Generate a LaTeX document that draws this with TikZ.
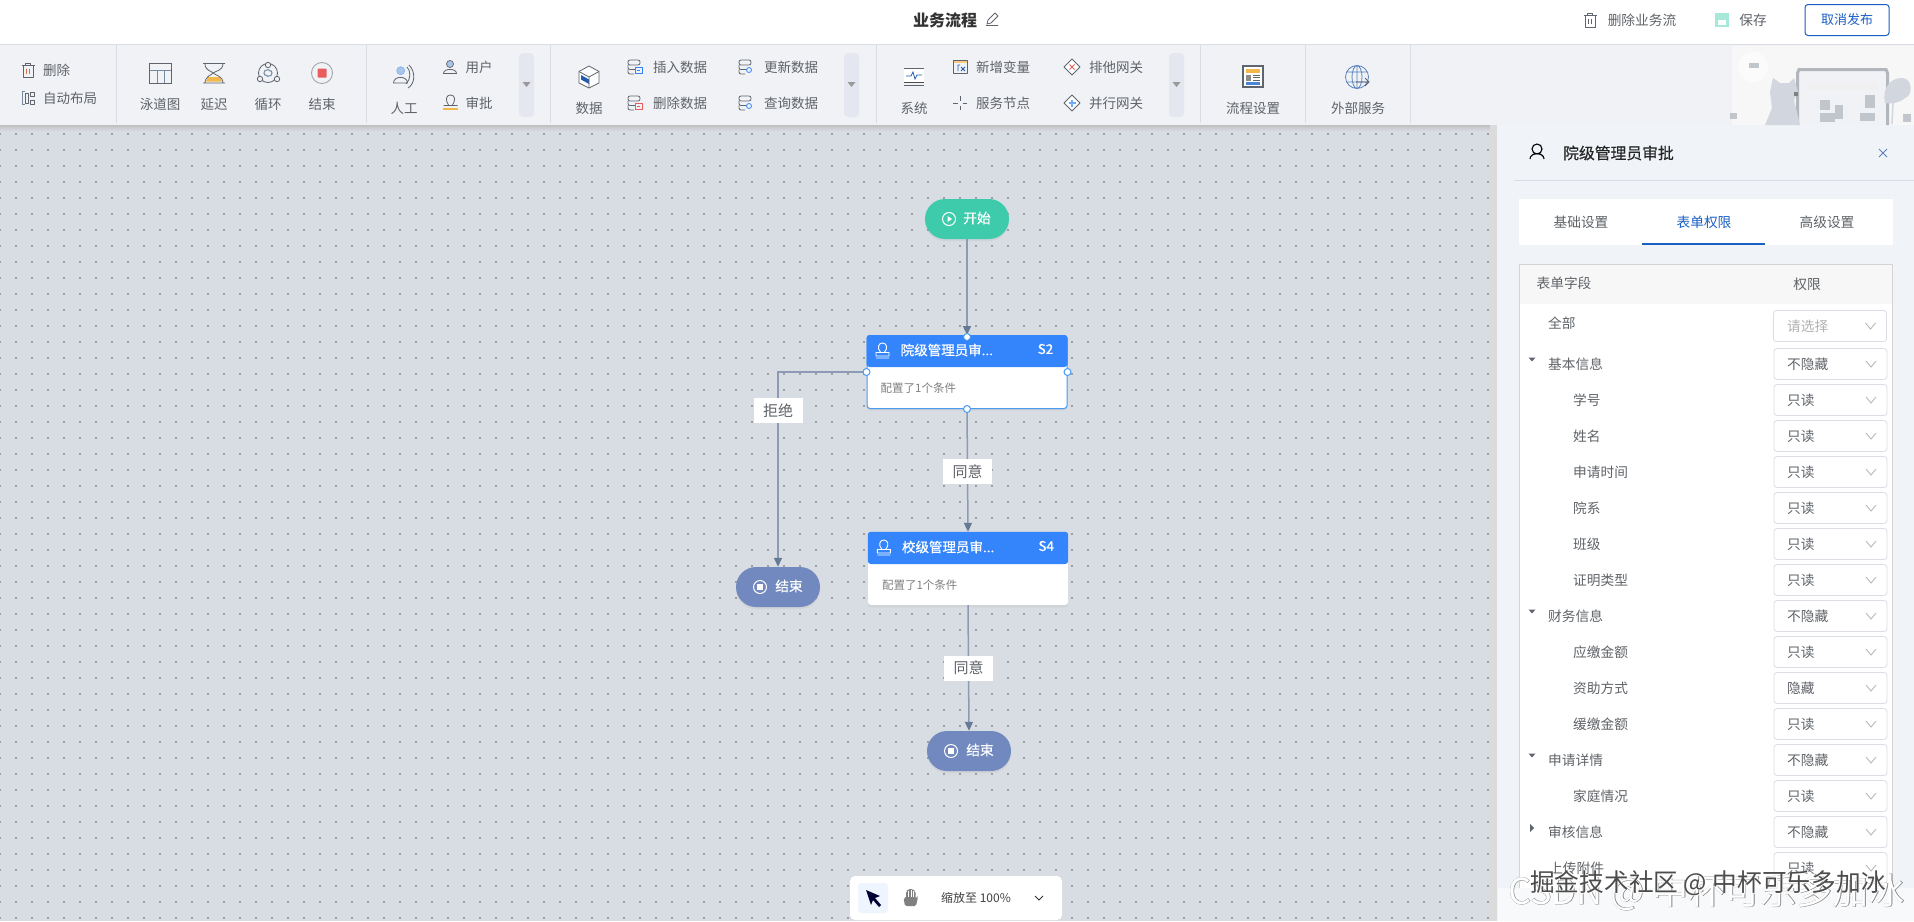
\documentclass[tikz,border=0pt]{standalone}
\usepackage{fontspec}
\usepackage{xcolor}
\usetikzlibrary{arrows.meta,shadows}
\setmainfont{Noto Sans CJK SC}

\definecolor{canvasgrey}{HTML}{D8DDE3}
\definecolor{barfill}{HTML}{F0F2F6}
\definecolor{panelfill}{HTML}{F0F3F7}
\definecolor{linegrey}{HTML}{DADDE3}
\definecolor{textgrey}{HTML}{5F6368}
\definecolor{icongrey}{HTML}{5F656E}
\definecolor{headblue}{HTML}{3485FB}
\definecolor{portblue}{HTML}{4A9BEF}
\definecolor{tabblue}{HTML}{1A5FC4}
\definecolor{startgreen}{HTML}{3DCBAB}
\definecolor{endblue}{HTML}{7189BF}
\definecolor{edgegrey}{HTML}{8C9BB3}
\definecolor{tipgrey}{HTML}{667A94}
\definecolor{artgrey}{HTML}{D2D6DE}
\definecolor{softblue}{HTML}{A9C4E4}
\definecolor{softred}{HTML}{E85C5C}
\definecolor{softyellow}{HTML}{F2B84B}
\definecolor{foldfill}{HTML}{E4E7EF}

\newcommand{\clipdots}{...}

\tikzset{
  tooltext/.style={font=\fontsize{13.5}{16}\selectfont, text=textgrey, inner sep=0},
  toptext/.style={font=\fontsize{13.7}{16}\selectfont, text=textgrey, inner sep=0},
  fieldtext/.style={font=\fontsize{13.7}{16}\selectfont, text=textgrey, inner sep=0, anchor=west},
  icon/.style={draw=icongrey, line width=0.8, line join=round},
  griddots/.style={draw=black!38, line width=1.2, dash pattern=on 1.2pt off 14.8pt},
  pill/.style={minimum width=84, minimum height=40, rounded corners=20, inner sep=0,
    drop shadow={shadow xshift=0pt, shadow yshift=-2pt, opacity=.1}},
  pilltext/.style={font=\fontsize{13.7}{16}\selectfont\addfontfeature{FakeBold=0.6}, text=white, inner sep=0},
  card/.style={minimum width=200, minimum height=73, rounded corners=3, fill=white, inner sep=0,
    drop shadow={shadow xshift=0pt, shadow yshift=-2pt, opacity=.12}},
  cardhead/.style={font=\fontsize{13.5}{16}\selectfont\addfontfeature{FakeBold=0.6}, text=white, inner sep=0, anchor=west},
  cardbody/.style={font=\fontsize{11.5}{14}\selectfont, text=gray, inner sep=0, anchor=west},
  edge/.style={draw=edgegrey, line width=1.5, -{Triangle[length=9pt,width=8pt,color=tipgrey]}},
  edgelabel/.style={fill=white, font=\fontsize{15}{18}\selectfont, text=textgrey,
    minimum width=49, minimum height=25, inner sep=0},
  port/.style={circle, draw=portblue, fill=white, line width=1, minimum size=7, inner sep=0},
  selectbox/.style={draw=linegrey, fill=white, rounded corners=3, line width=0.8,
    minimum width=113, minimum height=31, inner sep=0},
  chevron/.style={draw=gray!60, line width=0.8},
  stamp/.pic={
    \draw[white, line width=0.9] (-1.8,1.5) .. controls (-6,-3) and (-4,-8) .. (0,-8)
      .. controls (4,-8) and (6,-3) .. (1.8,1.5) (-6.5,1.5) rectangle (6.5,5) (-6.5,7) -- (6.5,7);
  },
  trashbin/.pic={
    \draw[icon] (-6.5,-4.5) -- (6.5,-4.5) (-2.2,-4.5) -- (-2.2,-7) -- (2.2,-7) -- (2.2,-4.5)
      (-5,-4.5) -- (-5,7) -- (5,7) -- (5,-4.5) (-1.5,-1.5) -- (-1.5,4) (1.5,-1.5) -- (1.5,4);
  },
  dbicon/.pic={
    \draw[icon, rounded corners=2] (-8,-7) rectangle (4,-2) (-8,-2) -- (-8,2.5) -- (0,2.5)
      (-8,2.5) -- (-8,7) -- (-2,7);
  },
  gateway/.pic={
    \draw[icon, fill=white] (0,-8) -- (8,0) -- (0,8) -- (-8,0) -- cycle;
  },
}

\begin{document}
\begin{tikzpicture}[x=1pt, y=-1pt]
  \useasboundingbox (0,0) rectangle (1914,921);

  % Draw page areas
  \fill[white] (0,0) rectangle (1914,45);
  \fill[barfill] (0,45) rectangle (1914,125);
  \draw[linegrey] (0,44.5) -- (1914,44.5);
  \fill[canvasgrey] (0,125) rectangle (1497,921);
  \shade[top color=black!25, bottom color=canvasgrey] (0,125) rectangle (1497,131);
  \fill[panelfill] (1497,125) rectangle (1914,921);
  \fill[black!14] (1490,125) rectangle (1497,921);

  % Draw dot grid
  \foreach \y in {134,150,...,918}
    \draw[griddots] (-0.6,\y) -- (1489,\y);

  % Draw illustration in the toolbar corner
  \fill[black!3] (1732,46) rectangle (1914,125);
  \fill[white, opacity=.5] (1753,67) circle (15);
  \fill[barfill] (1796,70) rectangle (1889,125);
  \fill[black!6] (1808,83) rectangle (1878,90);
  \draw[artgrey!85!black, line width=3] (1797.5,125) -- (1797.5,73) -- (1799,69.5) -- (1886,69.5) -- (1887.5,73) -- (1887.5,125);
  \fill[artgrey] (1765,125) -- (1772,108) -- (1770,92) -- (1773,78) -- (1780,83) -- (1789,83) -- (1794,78) -- (1798,92)
    -- (1794,100) -- (1800,125) -- cycle;
  \fill[artgrey] (1885,103) .. controls (1882,88) and (1890,78) .. (1902,78)
    .. controls (1912,78) and (1914,95) .. (1905,98) .. controls (1900,103) and (1890,104) .. (1885,103) -- cycle;
  \draw[artgrey, line width=1.5] (1893,103) -- (1892,124);
  \foreach \x/\y/\w/\h in {1820/100/10/10,1820/113/15/9,1835/105/8/14,1865/95/10/13,1860/113/15/8,1730/113/7/6,1749/63/10/5,1903/114/8/8}
    \fill[artgrey!92!black] (\x,\y) rectangle ++(\w,\h);
  \fill[black!50] (1794,92) rectangle (1798,96);

  % Add top bar
  \node (title) at (945,20) [inner sep=0, text=black!80, font=\fontsize{16}{18}\selectfont\bfseries] {业务流程};
  \draw[icon] (987,24) -- (988,20) -- (995,13) -- (998,16) -- (991,23) -- cycle (986,25.5) -- (998,25.5);
  \pic at (1590,20) {trashbin};
  \node (removeflow) at (1642,20) [toptext] {删除业务流};
  \fill[startgreen!45] (1715,13) rectangle (1729,27);
  \fill[white] (1718,20) rectangle (1726,25);
  \node (savebtn) at (1753,20) [toptext] {保存};
  \node (unpublish) at (1847,20) [draw=tabblue, line width=1, rounded corners=3, minimum width=84,
    minimum height=31, inner sep=0, text=tabblue, font=\fontsize{13}{16}\selectfont] {取消发布};

  % Draw toolbar separators
  \foreach \x in {116,366,550,876,1200,1305,1410}
    \draw[linegrey] (\x,45) -- (\x,123);
  \foreach \x in {519,844,1169}
  {
    \fill[foldfill, rounded corners=4] (\x,53) rectangle ++(15,64);
    \fill[black!40] (\x+3.5,82) -- ++(8,0) -- ++(-4,5) -- cycle;
  }

  % Add toolbar texts
  \foreach \x/\y/\name in {160/104/泳道图,214/104/延迟,268/104/循环,322/104/结束,404/108/人工,
      479/67/用户,479/103/审批,589/108/数据,680/67/插入数据,680/103/删除数据,791/67/更新数据,
      791/103/查询数据,914/108/系统,1003/67/新增变量,1003/103/服务节点,1116/67/排他网关,
      1116/103/并行网关,1253/108/流程设置,1358/108/外部服务}
    \node (tool\x\y) at (\x,\y) [tooltext] {\name};
  \node (tooldelete) at (43,70) [tooltext, anchor=west] {删除};
  \node (toollayout) at (43,98) [tooltext, anchor=west] {自动布局};

  % Draw small toolbar icons
  \pic at (28,70) {trashbin};
  \draw[softred!60!brown, line width=0.8] (26.5,68.5) -- (26.5,74) (29.5,68.5) -- (29.5,74);
  \draw[softblue!70!black, line width=1] (25,91.5) -- (22,91.5) -- (22,104.5) -- (25,104.5);
  \draw[icon] (25,93) rectangle (28,103) (30,92) rectangle (34,96) (30,100) rectangle (34,104);
  \draw[draw=icongrey, line width=0.7, fill=softblue] (450,64) circle (3.5);
  \draw[icon] (443.5,73.5) .. controls (443.5,68) and (456.5,68) .. (456.5,73.5) -- cycle;
  \draw[icon] (448.5,105) .. controls (445,100) and (446,95) .. (450.5,95)
    .. controls (455,95) and (456,100) .. (452.5,105) (443.5,105.5) -- (457.5,105.5);
  \fill[softyellow] (443,107.5) rectangle (457.5,109.5);
  \foreach \x/\y/\tint in {636/67/headblue,636/103/softred}
  {
    \pic at (\x,\y) {dbicon};
    \draw[\tint, line width=0.8, fill=barfill] (\x-1,\y) rectangle ++(7,6);
    \draw[\tint, line width=0.8] (\x+1,\y+3) -- ++(3,0);
  }
  \foreach \x/\y in {747/67,747/103}
  {
    \pic at (\x,\y) {dbicon};
    \draw[headblue, line width=0.8, fill=barfill] (\x+2,\y+3) circle (2.5);
  }
  \draw[icon] (953,60) rectangle (967,73);
  \fill[softyellow!70] (953.5,60.5) rectangle (966.5,63);
  \draw[headblue!70!black, line width=0.8] (958,71) -- (958,65) -- (960,65) (961,67) -- (965,71) (965,67) -- (961,71);
  \draw[icon] (953,103) -- (957.5,103) (962.5,103) -- (967,103) (960,96) -- (960,100.5) (960,105.5) -- (960,110);
  \pic at (1072,67) {gateway};
  \draw[softred, line width=1] (1069.5,64.5) -- (1074.5,69.5) (1074.5,64.5) -- (1069.5,69.5);
  \pic at (1072,103) {gateway};
  \draw[headblue!70, line width=1.2] (1068.5,103) -- (1075.5,103) (1072,99.5) -- (1072,106.5);

  % Draw large toolbar icons
  \draw[draw=icongrey, line width=0.9] (149.5,63.5) rectangle (171,83);
  \draw[softblue!70!black, line width=0.8] (149.5,70) -- (171,70) (157,70) -- (157,83) (164,70) -- (164,83);
  \fill[softyellow] (208,77) -- (220,77) -- (222,81.5) -- (206,81.5) -- cycle;
  \draw[icon] (203,63.5) -- (225,63.5) (203,83) -- (225,83)
    (205,63.5) .. controls (205,71) and (212,71) .. (213,73) .. controls (215,71) and (223,71) .. (223,63.5)
    (205,83) .. controls (205,76) and (212,75) .. (213,73) .. controls (215,75) and (223,76) .. (223,83);
  \draw[icon] (268,73) circle (9.5);
  \draw[icon, fill=barfill] (268,65) circle (2.7) (260,79) circle (2.7) (277,79) circle (2.7);
  \draw[softblue!70!black, line width=1] (271,70.5) arc (-45:150:3.5) (265,75.5) arc (135:330:3.5);
  \draw[black!35, line width=0.9] (322,73) circle (10.5);
  \fill[softred, rounded corners=0.8] (317.7,68.7) rectangle (326.7,77.7);
  \draw[draw=headblue!60, line width=0.7, fill=softblue] (400.7,70.7) circle (4);
  \draw[icon] (393.5,83) .. controls (393.5,75.5) and (407.5,75.5) .. (407.5,83) -- cycle;
  \draw[icon] (407,67) .. controls (411,71) and (411,79) .. (406,84)
    (408,88) .. controls (415,84) and (416,72) .. (409,65);
  \draw[icon, fill=white] (589,66) -- (599,71.5) -- (599,83) -- (589,88) -- (579,83) -- (579,71.5) -- cycle;
  \fill[headblue!70!black] (581,75) -- (589,79.5) -- (589,84) -- (581,79.5) -- cycle;
  \draw[icon] (579,71.5) -- (589,77) -- (599,71.5) (589,77) -- (589,88);
  \fill[white] (904,68) rectangle (924,82);
  \draw[icongrey, line width=0.6] (904,68.5) -- (924,68.5) (904,85.5) -- (924,85.5);
  \draw[black!70, line width=1] (904,82) -- (924,82);
  \draw[headblue!70!black, line width=0.8] (906,76) -- (911,76) -- (913,72) -- (915,79) -- (917,75) -- (922,75);
  \draw[icongrey, line width=1.1, fill=white] (1243,66) rectangle (1263,87);
  \fill[softyellow] (1246,69) rectangle (1260,73);
  \fill[black!45] (1246,74.5) rectangle (1251,80.5);
  \fill[headblue!70!gray] (1246,82) rectangle (1260,85);
  \draw[icongrey, line width=0.7] (1252.5,75) -- (1260,75) (1252.5,77.5) -- (1260,77.5) (1252.5,80) -- (1260,80);
  \draw[headblue!50!gray, line width=0.8] (1357,77) circle (11.5) (1357,77) ellipse (5 and 11.5)
    (1357,65.5) -- (1357,88.5) (1346,72) -- (1368,72) (1346,82) -- (1368,82);
  \draw[icongrey, line width=0.8] (1356,82) -- (1369,82) (1365,78) -- (1369,82) -- (1365,86);

  % Define flow nodes
  \node (start) at (967,219) [pill, fill=startgreen] {};
  \node (endleft) at (778,587) [pill, fill=endblue] {};
  \node (endright) at (969,751) [pill, fill=endblue] {};
  \node (schoolcard) at (968,568.5) [card] {};
  \node (collegecard) at (967,372) [card, draw=portblue, line width=1] {};

  % Draw card headers
  \foreach \nm/\y/\lbl/\code in {collegecard/367/院级管理员审\clipdots/S2,schoolcard/564/校级管理员审\clipdots/S4}
  {
    \fill[headblue, rounded corners=3] (\nm.west |- 0,\y) |- (\nm.north east) -- (\nm.east |- 0,\y) -- cycle;
    \pic at ([xshift=16]\nm.west |- 0,\y-16) {stamp};
    \node (\nm head) at ([xshift=34]\nm.west |- 0,\y-17) [cardhead] {\lbl};
    \node (\nm code) at ([xshift=-22]\nm.east |- 0,\y-18) [inner sep=0, text=white, font=\fontsize{13.5}{16}\selectfont\addfontfeature{FakeBold=0.6}] {\code};
    \node (\nm body) at ([xshift=14]\nm.west |- 0,\y+21) [cardbody] {配置了1个条件};
  }

  % Add pill contents
  \foreach \x/\y/\nm/\lbl in {977/218/pillstart/开始,789/586/pillendleft/结束,980/750/pillendright/结束}
    \node (\nm) at (\x,\y) [pilltext] {\lbl};
  \draw[white, line width=1] (949,219) circle (6.5);
  \fill[white] (947.5,216) -- (952,219) -- (947.5,222) -- cycle;
  \foreach \x/\y in {760/587,951/751}
  {
    \draw[white, line width=1] (\x,\y) circle (6.5);
    \fill[white] (\x-3,\y-3) rectangle (\x+3,\y+3);
  }

  % Draw connectors
  \draw[edge] (start.south) -- (collegecard.north);
  \draw[edge] (collegecard.west) -| node[edgelabel, pos=0.6] (refuse) {拒绝} (endleft.north);
  \draw[edge] (collegecard.south) -- node[edgelabel, pos=0.51] (agreefirst) {同意} (schoolcard.north);
  \draw[edge] (schoolcard.south) -- node[edgelabel] (agreesecond) {同意} (endright.north);

  % Add ports
  \node (porttop) at (collegecard.north) [port, yshift=-2] {};
  \node (portleft) at (collegecard.west) [port] {};
  \node (portright) at (collegecard.east) [port] {};
  \node (portbottom) at (collegecard.south) [port] {};

  % Draw zoom bar
  \node (zoombar) at (956,898) [minimum width=212, minimum height=44, fill=white, rounded corners=5, inner sep=0,
    drop shadow={shadow xshift=0pt, shadow yshift=0pt, opacity=.08}] {};
  \fill[headblue!8, rounded corners=3] (858,883) rectangle (888,913);
  \fill[black!80!blue] (866,890) -- (880,896) -- (875,898) -- (881,905) -- (879,907) -- (873,900) -- (871,905) -- cycle;
  \fill[gray, rounded corners=1.5] (905,906) -- (903.5,898) -- (906,898) -- (906,891) -- (908,891) -- (908.5,889) -- (910.5,889)
    -- (911,889) -- (913,889) -- (913.5,891) -- (915.5,891) -- (915.5,899) -- (917,896) -- (918,897) -- (916,906) -- cycle;
  \draw[white, line width=0.5] (908.5,891) -- (908.5,897) (911,890) -- (911,897) (913.5,891) -- (913.5,897);
  \node (zoomtext) at (976,898) [inner sep=0, text=black!75, font=\fontsize{12}{14}\selectfont] {缩放至 100\%};
  \draw[black!80, line width=0.9] (1035,896) -- (1039,900) -- (1043,896);

  % Add panel header
  \draw[black, line width=1.1] (1537,149) circle (5) (1530,159) .. controls (1530,152) and (1544,152) .. (1544,159);
  \node (paneltitle) at (1563,153) [inner sep=0, anchor=west, text=black!85, font=\fontsize{15.8}{18}\selectfont\addfontfeature{FakeBold=0.4}] {院级管理员审批};
  \draw[headblue!50!gray, line width=0.8] (1879,149) -- (1887,157) (1887,149) -- (1879,157);
  \draw[linegrey] (1514,180.5) -- (1914,180.5);

  % Draw tabs
  \fill[white] (1519,199) rectangle (1893,245);
  \foreach \x/\nm/\lbl in {1581/tabbase/基础设置,1827/tabhigh/高级设置}
    \node (\nm) at (\x,222) [toptext] {\lbl};
  \node (tabform) at (1704,222) [toptext, text=tabblue] {表单权限};
  \draw[tabblue, line width=2] (1642,244) -- (1765,244);

  % Draw table
  \fill[white] (1519,264) rectangle (1892,890);
  \fill[black!3] (1519,264) rectangle (1892,304);
  \draw[black!17] (1519,890) -- (1519,264) -- (1892,264) -- (1892,890);
  \node (fieldhead) at (1564,283) [toptext] {表单字段};
  \node (rulehead) at (1807,284) [toptext] {权限};
  \node (fieldall) at (1548,323) [fieldtext] {全部};
  \node (selectall) at (1830,326) [selectbox] {};
  \node (valueall) at (1787,326) [fieldtext, text=black!30] {请选择};
  \draw[chevron] (1865.5,323) -- (1870.5,329) -- (1875.5,323);

  % Add table rows
  \foreach \y/\lx/\fld/\val [count=\i] in {364/1548/基本信息/不隐藏,400/1573/学号/只读,436/1573/姓名/只读,
      472/1573/申请时间/只读,508/1573/院系/只读,544/1573/班级/只读,580/1573/证明类型/只读,
      616/1548/财务信息/不隐藏,652/1573/应缴金额/只读,688/1573/资助方式/隐藏,724/1573/缓缴金额/只读,
      760/1548/申请详情/不隐藏,796/1573/家庭情况/只读,832/1548/审核信息/不隐藏,868/1549/上传附件/只读}
  {
    \node (field\i) at (\lx,\y) [fieldtext] {\fld};
    \node (select\i) at (1830.5,\y) [selectbox] {};
    \node (value\i) at (1787,\y) [fieldtext] {\val};
    \draw[chevron] (1866,\y-3) -- (1871,\y+3) -- (1876,\y-3);
  }
  \foreach \y in {360,612,756}
    \fill[icongrey] (1528.5,\y-2.5) -- (1535.5,\y-2.5) -- (1532,\y+1.5) -- cycle;
  \fill[icongrey] (1530,824) -- (1534,828) -- (1530,832) -- cycle;
  \fill[panelfill!50!white] (1497.5,888) rectangle (1914,921);

  % Add watermarks
  \node (csdnhalo) at (1508,892) [inner sep=0, anchor=west, text=black!45, font=\fontsize{36}{40}\selectfont\addfontfeature{FakeBold=1.5}] {CSDN @ 中杯可乐多加冰};
  \node (csdnmark) at (1508,892) [inner sep=0, anchor=west, text=white, font=\fontsize{36}{40}\selectfont] {CSDN @ 中杯可乐多加冰};
  \node (juejinhalo) at (1530,883) [inner sep=0, anchor=west, text=white, font=\fontsize{24.7}{28}\selectfont\addfontfeature{FakeBold=2.5}] {掘金技术社区 @ 中杯可乐多加冰};
  \node (juejinmark) at (1530,883) [inner sep=0, anchor=west, text=black!70, font=\fontsize{24.7}{28}\selectfont] {掘金技术社区 @ 中杯可乐多加冰};
\end{tikzpicture}
\end{document}
